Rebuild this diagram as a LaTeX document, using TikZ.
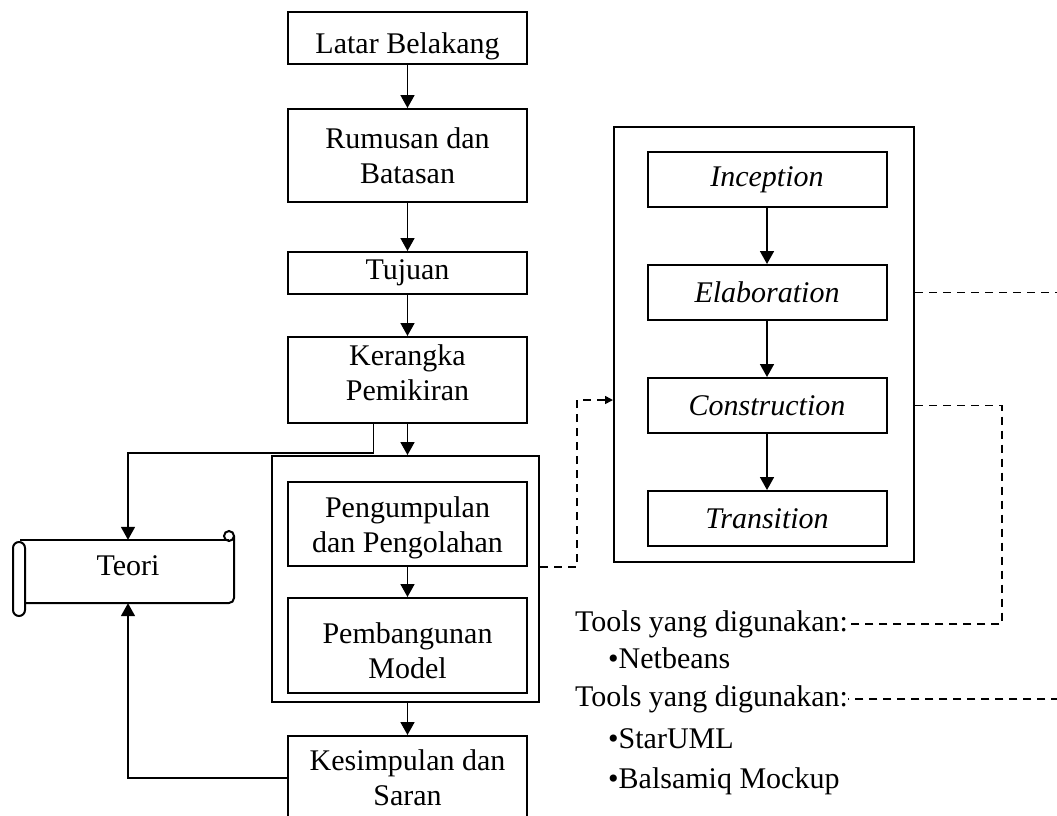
\documentclass[tikz,border=0pt]{standalone}
\usepackage{fontspec}
\setmainfont{Liberation Serif}
\usetikzlibrary{arrows.meta, positioning}

\begin{document}
\begin{tikzpicture}[
    x = 1pt, y = -1pt,
    font = \fontsize{30}{35}\selectfont,
    tahap/.style={
      draw,
      line width = 2pt,
      minimum width = 239pt,
      inner sep = 2pt,
      align = center,
    },
    wadah/.style={
      draw,
      line width = 2pt,
    },
    panah/.style={-{Triangle[width=14pt, length=13pt]}, line width = 1.7pt},
    putus/.style={line width = 1.6pt, dash pattern = on 8pt off 6pt},
    ket/.style={anchor = base west, inner sep = 0pt},
  ]
  \useasboundingbox (0,0) rectangle (1057,815);
  \clip (0,0) rectangle (1057,815);

  \node[tahap, minimum height = 52pt, text height = 30pt, text depth = 0pt] (latar) at (407.5,38) {Latar Belakang};
  \node[tahap, minimum height = 93pt, below = 43pt of latar] (rumusan) {Rumusan dan\\Batasan};
  \node[tahap, minimum height = 42pt, below = 48pt of rumusan] (tujuan) {Tujuan};
  \node[tahap, minimum height = 86pt, below = 41pt of tujuan, text depth = 15pt] (kerangka) {Kerangka\\Pemikiran};
  \node[wadah, minimum width = 267pt, minimum height = 246pt] (metode) at (405.5,579) {};
  \node[tahap, minimum height = 84pt, text height = 64pt] (kumpul) at (407.5,524) {Pengumpulan\\dan Pengolahan};
  \node[tahap, minimum height = 95pt, below = 30pt of kumpul, text height = 66pt] (bangun) {Pembangunan\\Model};
  \node[tahap, minimum height = 84pt] (simpul) at (407.5,778) {Kesimpulan dan\\Saran};
  \node[minimum width = 209pt, minimum height = 63pt, text depth = 11pt] (teori) at (128,571.5) {Teori};

  \node[wadah, minimum width = 300pt, minimum height = 435pt] (rup) at (764,344.5) {};
  \node[tahap, minimum height = 55pt] (incep) at (767,179.5) {\textit{Inception}};
  \node[tahap, minimum height = 55pt, below = 56pt of incep] (elab) {\textit{Elaboration}};
  \node[tahap, minimum height = 55pt, below = 56pt of elab] (konstr) {\textit{Construction}};
  \node[tahap, minimum height = 55pt, below = 56pt of konstr] (trans) {\textit{Transition}};

  \node[ket] (alat1) at (575,631) {Tools yang digunakan:};
  \node[ket] (netb) at (608,668) {\textbullet Netbeans};
  \node[ket] (alat2) at (575,706) {Tools yang digunakan:};
  \node[ket] (star) at (608,748) {\textbullet StarUML};
  \node[ket] (bals) at (608,788) {\textbullet Balsamiq Mockup};

  \draw[wadah] (20,540) -- (229,540);
  \draw[wadah, rounded corners = 5pt] (234,536) -- (234,603) -- (25,603);
  \draw[wadah] (229,536) circle[radius = 5pt];
  \draw[wadah, rounded corners = 6pt] (13,542) rectangle (25,616);

  \draw[panah] (latar) -- (rumusan);
  \draw[panah] (rumusan) -- (tujuan);
  \draw[panah] (tujuan) -- (kerangka);
  \draw[panah] (kerangka.south) -- (kerangka.south |- metode.north);
  \draw[panah] (kumpul) -- (bangun);
  \draw[panah] (simpul.north |- metode.south) -- (simpul.north);
  \draw[panah] ([xshift=-34pt]kerangka.south) -- ++(0,29) -| (teori.north);
  \draw[panah] (simpul.west) -| (teori.south);

  \draw[panah] (incep) -- (elab);
  \draw[panah] (elab) -- (konstr);
  \draw[panah] (konstr) -- (trans);

  \coordinate (belok1) at (577,400);
  \draw[putus, -{Triangle[width=8pt, length=8pt]}] (metode.east |- kumpul.south) -| (belok1) -- (rup.west |- belok1);
  \coordinate (belok2) at (1002,0);
  \draw[putus] (rup.east |- konstr) -| (belok2 |- alat1.east) -- (alat1.east);
  \coordinate (belok3) at (1064,0);
  \draw[putus] (rup.east |- elab) -| (belok3 |- alat2.east) -- (alat2.east);
\end{tikzpicture}
\end{document}
